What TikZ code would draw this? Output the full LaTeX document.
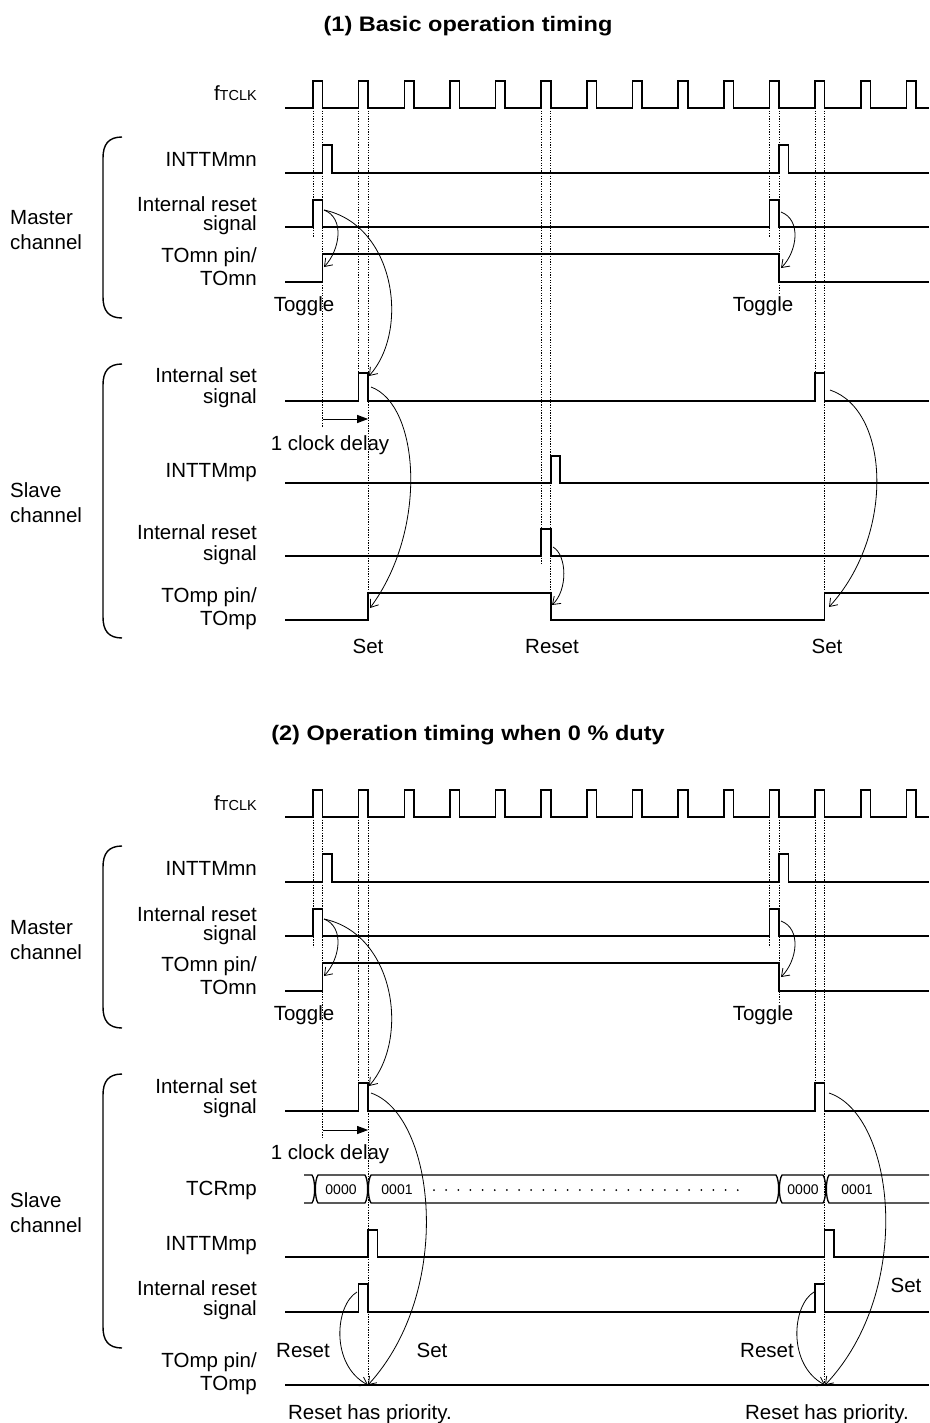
\documentclass[tikz,border=0pt]{standalone}
\usepackage{fontspec}
\usepackage{graphicx}
\setmainfont{Liberation Sans}
\usetikzlibrary{arrows.meta}
\tikzset{
  sig/.style={line width=1.6pt, line join=miter},
  guide/.style={line width=0.7pt, dash pattern=on 1.3pt off 1.3pt},
  curvarr/.style={line width=0.8pt, -{Straight Barb[length=7pt,width=10pt]}},
  delayarr/.style={line width=1pt, -{Triangle[length=11pt,width=8pt]}},
  lbl/.style={anchor=base east, inner sep=0pt, font=\fontsize{20.5}{22}\selectfont},
  txt/.style={anchor=base, inner sep=0pt, font=\fontsize{20.5}{22}\selectfont},
  grp/.style={anchor=base west, inner sep=0pt, font=\fontsize{20.5}{22}\selectfont},
  ttl/.style={anchor=base, inner sep=0pt, font=\bfseries\fontsize{21}{24}\selectfont},
  bracestyle/.style={line width=1.4pt},
  bus/.style={line width=1.3pt},
  val/.style={anchor=center, inner sep=0pt, font=\fontsize{14}{14}\selectfont}
}
\newcommand{\ftclk}{f{\fontsize{14.5}{15}\selectfont TCLK}}
\begin{document}
\begin{tikzpicture}[x=1pt,y=-1pt]
\useasboundingbox[fill=white] (0,0) rectangle (929,1423);
\def\xA{313}\def\xB{322.5}\def\xC{358.65}\def\xD{368.15}
\def\xE{541.25}\def\xF{550.75}\def\xG{769.5}\def\xH{779}
\def\xI{815.15}\def\xJ{824.65}

% ================= PART 1 =================
\node[ttl] (title1) at (468,32) {\scalebox{1.12}[1]{(1) Basic operation timing}};

% guides
\draw[guide] (\xA,108) -- (\xA,237);
\draw[guide] (\xB,108) -- (\xB,427);
\draw[guide] (\xC,108) -- (\xC,373);
\draw[guide] (\xD,108) -- (\xD,593);
\draw[guide] (\xE,108) -- (\xE,565);
\draw[guide] (\xF,108) -- (\xF,593);
\draw[guide] (\xG,108) -- (\xG,237);
\draw[guide] (\xH,108) -- (\xH,293);
\draw[guide] (\xI,108) -- (\xI,373);
\draw[guide] (\xJ,108) -- (\xJ,593);

% clock
\draw[sig] (285,108) foreach \k in {0,...,13} { -- ({313+45.65*\k},108) -- ++(0,-27) -- ++(9.5,0) -- ++(0,27) } -- (929,108);
% master
\draw[sig] (285,173) -- (\xB,173) -- (\xB,145) -- (332,145) -- (332,173) -- (\xH,173) -- (\xH,145) -- (788.5,145) -- (788.5,173) -- (929,173);
\draw[sig] (285,227) -- (\xA,227) -- (\xA,200) -- (\xB,200) -- (\xB,227) -- (\xG,227) -- (\xG,200) -- (\xH,200) -- (\xH,227) -- (929,227);
\draw[sig] (285,282) -- (\xB,282) -- (\xB,254) -- (\xH,254) -- (\xH,282) -- (929,282);
% slave
\draw[sig] (285,401) -- (\xC,401) -- (\xC,373) -- (\xD,373) -- (\xD,401) -- (\xI,401) -- (\xI,373) -- (\xJ,373) -- (\xJ,401) -- (929,401);
\draw[sig] (285,483) -- (\xF,483) -- (\xF,456) -- (560.25,456) -- (560.25,483) -- (929,483);
\draw[sig] (285,556) -- (\xE,556) -- (\xE,529) -- (\xF,529) -- (\xF,556) -- (929,556);
\draw[sig] (285,620) -- (\xD,620) -- (\xD,593) -- (\xF,593) -- (\xF,620) -- (\xJ,620) -- (\xJ,593) -- (929,593);

% braces
\draw[bracestyle] (122,137) .. controls (108,137) and (103,145) .. (103,158) -- (103,297) .. controls (103,310) and (108,318) .. (122,318);
\draw[bracestyle] (122,364) .. controls (108,364) and (103,372) .. (103,385) -- (103,617) .. controls (103,630) and (108,638) .. (122,638);

% labels
\node[lbl] (clk1) at (257,101) {\ftclk};
\node[lbl] (intmn1) at (257,167) {INTTMmn};
\node[lbl] (mrst1a) at (257,212) {Internal reset};
\node[lbl] (mrst1b) at (257,231) {signal};
\node[lbl] (tomn1a) at (257,262) {TOmn pin/};
\node[lbl] (tomn1b) at (257,285) {TOmn};
\node[grp] (mch1a) at (10,225) {Master};
\node[grp] (mch1b) at (10,250) {channel};
\node[txt] (tog1a) at (304,311) {Toggle};
\node[txt] (tog1b) at (763,311) {Toggle};
\node[lbl] (sset1a) at (257,382) {Internal set};
\node[lbl] (sset1b) at (257,403) {signal};
\node[txt] (dly1) at (330,450) {1 clock delay};
\node[lbl] (intmp1) at (257,477) {INTTMmp};
\node[lbl] (srst1a) at (257,539) {Internal reset};
\node[lbl] (srst1b) at (257,560) {signal};
\node[lbl] (tomp1a) at (257,602) {TOmp pin/};
\node[lbl] (tomp1b) at (257,625) {TOmp};
\node[grp] (sch1a) at (10,497) {Slave};
\node[grp] (sch1b) at (10,522) {channel};
\node[txt] (set1a) at (368,653) {Set};
\node[txt] (rst1a) at (552,653) {Reset};
\node[txt] (set1b) at (827,653) {Set};

% delay arrow
\coordinate (d1s) at (\xB,419);
\coordinate (d1e) at (\xD,419);
\draw[delayarr] (d1s) -- (d1e);

% curved arrows
\coordinate (a1s) at (324,210); \coordinate (a1e) at (324,267);
\draw[curvarr] (a1s) .. controls (345,218) and (340,250) .. (a1e);
\coordinate (a2e) at (369,376);
\draw[curvarr] (a1s) .. controls (395,225) and (410,330) .. (a2e);
\coordinate (a3s) at (371,387); \coordinate (a3e) at (370,608);
\draw[curvarr] (a3s) .. controls (420,405) and (428,530) .. (a3e);
\coordinate (a4s) at (553,547); \coordinate (a4e) at (552,605);
\draw[curvarr] (a4s) .. controls (567,555) and (568,590) .. (a4e);
\coordinate (a5s) at (781,212); \coordinate (a5e) at (781,268);
\draw[curvarr] (a5s) .. controls (802,220) and (797,252) .. (a5e);
\coordinate (a6s) at (830,390); \coordinate (a6e) at (829,607);
\draw[curvarr] (a6s) .. controls (890,410) and (895,535) .. (a6e);

% ================= PART 2 =================
\node[ttl] (title2) at (468,740) {\scalebox{1.12}[1]{(2) Operation timing when 0 \% duty}};

\draw[guide] (\xA,817) -- (\xA,947);
\draw[guide] (\xB,817) -- (\xB,1137);
\draw[guide] (\xC,817) -- (\xC,1083);
\draw[guide] (\xD,817) -- (\xD,1385);
\draw[guide] (\xG,817) -- (\xG,947);
\draw[guide] (\xH,817) -- (\xH,1002);
\draw[guide] (\xI,817) -- (\xI,1083);
\draw[guide] (\xJ,817) -- (\xJ,1385);

\draw[sig] (285,817) foreach \k in {0,...,13} { -- ({313+45.65*\k},817) -- ++(0,-27) -- ++(9.5,0) -- ++(0,27) } -- (929,817);
\draw[sig] (285,882) -- (\xB,882) -- (\xB,854) -- (332,854) -- (332,882) -- (\xH,882) -- (\xH,854) -- (788.5,854) -- (788.5,882) -- (929,882);
\draw[sig] (285,936) -- (\xA,936) -- (\xA,909) -- (\xB,909) -- (\xB,936) -- (\xG,936) -- (\xG,909) -- (\xH,909) -- (\xH,936) -- (929,936);
\draw[sig] (285,991) -- (\xB,991) -- (\xB,963) -- (\xH,963) -- (\xH,991) -- (929,991);

\draw[sig] (285,1111) -- (\xC,1111) -- (\xC,1083) -- (\xD,1083) -- (\xD,1111) -- (\xI,1111) -- (\xI,1083) -- (\xJ,1083) -- (\xJ,1111) -- (929,1111);
\draw[sig] (285,1257) -- (\xD,1257) -- (\xD,1230) -- (377.65,1230) -- (377.65,1257) -- (\xJ,1257) -- (\xJ,1230) -- (834.15,1230) -- (834.15,1257) -- (929,1257);
\draw[sig] (285,1312) -- (\xC,1312) -- (\xC,1284) -- (\xD,1284) -- (\xD,1312) -- (\xI,1312) -- (\xI,1284) -- (\xJ,1284) -- (\xJ,1312) -- (929,1312);
\draw[sig] (285,1385) -- (929,1385);

% TCRmp bus
\draw[bus] (304,1175) -- (312,1175) .. controls (315.5,1180) and (315.5,1198) .. (312,1203) -- (304,1203);
\draw[bus] (318,1175) .. controls (314.5,1180) and (314.5,1198) .. (318,1203) -- (365,1203) .. controls (368.5,1198) and (368.5,1180) .. (365,1175) -- cycle;
\draw[bus] (371,1175) .. controls (367.5,1180) and (367.5,1198) .. (371,1203) -- (776,1203) .. controls (779.5,1198) and (779.5,1180) .. (776,1175) -- cycle;
\draw[bus] (782,1175) .. controls (778.5,1180) and (778.5,1198) .. (782,1203) -- (823,1203) .. controls (826.5,1198) and (826.5,1180) .. (823,1175) -- cycle;
\draw[bus] (929,1175) -- (829,1175) .. controls (825.5,1180) and (825.5,1198) .. (829,1203) -- (929,1203);
\node[val] (v0a) at (341,1190) {0000};
\node[val] (v1a) at (397,1190) {0001};
\node[val] (v0b) at (803,1190) {0000};
\node[val] (v1b) at (857,1190) {0001};
\foreach \i in {0,...,25} \fill ({434+12.15*\i},1190) circle (1pt);

\draw[bracestyle] (122,846) .. controls (108,846) and (103,854) .. (103,867) -- (103,1007) .. controls (103,1020) and (108,1028) .. (122,1028);
\draw[bracestyle] (122,1074) .. controls (108,1074) and (103,1082) .. (103,1095) -- (103,1327) .. controls (103,1340) and (108,1348) .. (122,1348);

\node[lbl] (clk2) at (257,810) {\ftclk};
\node[lbl] (intmn2) at (257,875) {INTTMmn};
\node[lbl] (mrst2a) at (257,921) {Internal reset};
\node[lbl] (mrst2b) at (257,940) {signal};
\node[lbl] (tomn2a) at (257,971) {TOmn pin/};
\node[lbl] (tomn2b) at (257,994) {TOmn};
\node[grp] (mch2a) at (10,934) {Master};
\node[grp] (mch2b) at (10,959) {channel};
\node[txt] (tog2a) at (304,1020) {Toggle};
\node[txt] (tog2b) at (763,1020) {Toggle};
\node[lbl] (sset2a) at (257,1093) {Internal set};
\node[lbl] (sset2b) at (257,1113) {signal};
\node[txt] (dly2) at (330,1159) {1 clock delay};
\node[lbl] (tcr2) at (257,1195) {TCRmp};
\node[lbl] (intmp2) at (257,1250) {INTTMmp};
\node[lbl] (srst2a) at (257,1295) {Internal reset};
\node[lbl] (srst2b) at (257,1315) {signal};
\node[lbl] (tomp2a) at (257,1367) {TOmp pin/};
\node[lbl] (tomp2b) at (257,1390) {TOmp};
\node[grp] (sch2a) at (10,1207) {Slave};
\node[grp] (sch2b) at (10,1232) {channel};
\node[txt] (rst2a) at (303,1357) {Reset};
\node[txt] (set2a) at (432,1357) {Set};
\node[txt] (rst2b) at (767,1357) {Reset};
\node[txt] (set2b) at (906,1292) {Set};
\node[txt] (pri2a) at (370,1419) {Reset has priority.};
\node[txt] (pri2b) at (827,1419) {Reset has priority.};

\coordinate (d2s) at (\xB,1130);
\coordinate (d2e) at (\xD,1130);
\draw[delayarr] (d2s) -- (d2e);

\coordinate (b1s) at (324,919); \coordinate (b1e) at (324,976);
\draw[curvarr] (b1s) .. controls (345,927) and (340,959) .. (b1e);
\coordinate (b2e) at (369,1086);
\draw[curvarr] (b1s) .. controls (395,934) and (410,1039) .. (b2e);
\coordinate (b5s) at (781,921); \coordinate (b5e) at (781,977);
\draw[curvarr] (b5s) .. controls (802,929) and (797,961) .. (b5e);
\coordinate (b3s) at (371,1093); \coordinate (b3e) at (368,1385);
\draw[curvarr] (b3s) .. controls (435,1115) and (455,1290) .. (b3e);
\coordinate (b4s) at (357,1292);
\draw[curvarr] (b4s) .. controls (335,1305) and (330,1365) .. (b3e);
\coordinate (b6s) at (814,1292); \coordinate (b6e) at (825,1385);
\draw[curvarr] (b6s) .. controls (792,1305) and (787,1365) .. (b6e);
\coordinate (b7s) at (829,1093);
\draw[curvarr] (b7s) .. controls (895,1115) and (915,1290) .. (b6e);
\end{tikzpicture}
\end{document}
